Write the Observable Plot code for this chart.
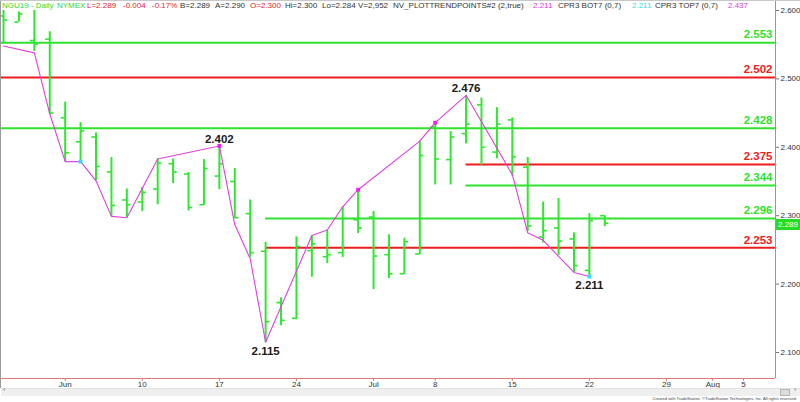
<!DOCTYPE html>
<html><head><meta charset="utf-8">
<script src="https://cdn.jsdelivr.net/npm/d3@7"></script>
<script src="https://cdn.jsdelivr.net/npm/@observablehq/plot@0.6"></script>
<style>
body{margin:0;background:#fff;}
#wrap{position:relative;width:800px;height:402px;overflow:hidden;font-family:"Liberation Sans",Arial,sans-serif;background:#fff;}
#wrap svg{position:absolute;left:0;top:0;}
.hdr{position:absolute;top:1px;font-size:8px;line-height:10px;white-space:nowrap;}
#tag{position:absolute;left:776px;width:24px;height:11px;background:#22dd22;color:#fff;font-size:8px;line-height:11px;text-align:center;}
#scroll{position:absolute;left:1px;top:388px;width:799px;height:7px;background:#efefef;border-top:1px solid #e2e2e2;}
#thumb{position:absolute;left:780px;top:389px;width:8px;height:5px;background:#dcdcdc;border:1px solid #b5b5b5;}
.arr{position:absolute;top:386px;font-size:7px;color:#777;}
#cap{position:absolute;right:3px;top:396px;font-size:4.1px;color:#444;white-space:nowrap;}
#lb{position:absolute;left:0;top:0;width:1px;height:388px;background:#9a9a9a;}
#tb{position:absolute;left:0;top:0;width:800px;height:1px;background:#c8c8c8;}
</style></head><body>
<div id="wrap"></div>
<script>
// trading sessions (calendar of the x axis)
const sessions = ["May 28","May 29","May 30","May 31","Jun 3","Jun 4","Jun 5","Jun 6","Jun 7","Jun 10","Jun 11","Jun 12","Jun 13","Jun 14","Jun 17","Jun 18","Jun 19","Jun 20","Jun 21","Jun 24","Jun 25","Jun 26","Jun 27","Jun 28","Jul 1","Jul 2","Jul 3","Jul 5","Jul 8","Jul 9","Jul 10","Jul 11","Jul 12","Jul 15","Jul 16","Jul 17","Jul 18","Jul 19","Jul 22","Jul 23","Jul 24","Jul 25","Jul 26","Jul 29","Jul 30","Jul 31","Aug 1","Aug 2","Aug 5","Aug 6","Aug 7"];

// daily OHLC bars
const dates  = ["May 28","May 29","May 30","May 31","Jun 3","Jun 4","Jun 5","Jun 6","Jun 7","Jun 10","Jun 11","Jun 12","Jun 13","Jun 14","Jun 17","Jun 18","Jun 19","Jun 20","Jun 21","Jun 24","Jun 25","Jun 26","Jun 27","Jun 28","Jul 1","Jul 2","Jul 3","Jul 5","Jul 8","Jul 9","Jul 10","Jul 11","Jul 12","Jul 15","Jul 16","Jul 17","Jul 18","Jul 19","Jul 22","Jul 23"];
const opens  = [2.592,2.583,2.556,2.558,2.443,2.408,2.415,2.364,2.323,2.320,2.339,2.376,2.361,2.316,2.358,2.350,2.303,2.248,2.173,2.150,2.249,2.240,2.246,2.294,2.298,2.243,2.215,2.244,2.430,2.382,2.420,2.462,2.393,2.440,2.371,2.269,2.282,2.266,2.220,2.300];
const highs  = [2.600,2.598,2.600,2.569,2.466,2.436,2.421,2.385,2.339,2.341,2.383,2.383,2.363,2.382,2.402,2.369,2.323,2.261,2.180,2.269,2.271,2.279,2.313,2.338,2.306,2.272,2.267,2.409,2.436,2.423,2.476,2.472,2.458,2.443,2.385,2.320,2.325,2.275,2.303,2.300];
const lows   = [2.551,2.583,2.540,2.449,2.379,2.379,2.351,2.299,2.297,2.306,2.316,2.347,2.307,2.315,2.338,2.296,2.239,2.115,2.139,2.148,2.210,2.230,2.239,2.274,2.192,2.208,2.214,2.243,2.345,2.345,2.405,2.374,2.383,2.358,2.277,2.260,2.242,2.217,2.211,2.284];
const closes = [2.586,2.595,2.551,2.450,2.392,2.424,2.372,2.315,2.316,2.334,2.377,2.364,2.312,2.369,2.376,2.297,2.246,2.145,2.147,2.255,2.259,2.243,2.296,2.282,2.241,2.215,2.262,2.388,2.383,2.415,2.434,2.400,2.434,2.386,2.285,2.278,2.263,2.227,2.293,2.289];

// NV_PLOTTRENDPOINTS line vertices
const trendDates = ["May 28","May 30","May 31","Jun 3","Jun 4","Jun 5","Jun 6","Jun 7","Jun 11","Jun 17","Jun 18","Jun 19","Jun 20","Jun 25","Jun 26","Jun 27","Jun 28","Jul 5","Jul 8","Jul 10","Jul 15","Jul 16","Jul 17","Jul 19","Jul 22"];
const trendVals  = [2.548,2.538,2.449,2.379,2.379,2.351,2.299,2.297,2.383,2.402,2.287,2.237,2.115,2.271,2.279,2.313,2.338,2.409,2.436,2.476,2.360,2.275,2.264,2.217,2.211];
const topDots = ["Jun 17","Jun 28","Jul 8"];
const botDots = ["Jun 4","Jul 22"];

// horizontal levels
const levels    = [2.553,2.502,2.428,2.375,2.344,2.296,2.253];
const levelKind = ["up","down","up","down","up","up","down"];
const levelFrom = [null,null,null,"Jul 10","Jul 10","Jun 20","Jun 20"];

// swing labels
const swingDates = ["Jun 17","Jun 20","Jul 10","Jul 22"];
const swingVals  = [2.402,2.115,2.476,2.211];
const swingSide  = ["high","low","high","low"];

// axis ticks
const tickDates  = ["Jun 3","Jun 10","Jun 17","Jun 24","Jul 1","Jul 8","Jul 15","Jul 22","Jul 29","Aug 1","Aug 5"];
const tickLabels = ["Jun","10","17","24","Jul","8","15","22","29","Aug","5"];
const yTicks = [2.1,2.2,2.3,2.4,2.5,2.6];
const lastPrice = 2.289;

const header = [
  ["NGU19 - Daily","#2fd62f",2],["NYMEX","#2fd62f",57],["L=2.289","#e8262b",87],["-0.004","#e8262b",123],["-0.17%","#e8262b",152],
  ["B=2.289","#333",180],["A=2.290","#333",215],["O=2.300","#e8262b",250],["Hi=2.300","#333",285],["Lo=2.284","#333",322],
  ["V=2,952","#333",358],["NV_PLOTTRENDPOINTS#2 (2,true)","#333",393],["2.211","#e03ae0",533],["CPR3 BOT7 (0,7)","#333",558],
  ["2.211","#33e0e0",632],["CPR3 TOP7 (0,7)","#333",655],["2.437","#e03ae0",728]
];

const idx = d => sessions.indexOf(d);
const X0 = -0.195, X1 = 50.07;
const bars = dates.map((d,k)=>({i:idx(d),o:opens[k],h:highs[k],l:lows[k],c:closes[k]}));
const trend = trendDates.map((d,k)=>({i:idx(d),v:trendVals[k]}));
const tVal = d => trendVals[trendDates.indexOf(d)];
const lv = levels.map((v,k)=>({v,kind:levelKind[k],start:levelFrom[k]?idx(levelFrom[k]):X0}));
const sw = swingDates.map((d,k)=>({i:idx(d),v:swingVals[k],side:swingSide[k]}));
const tickIdx = tickDates.map(idx);
const f3 = d3.format(".3f");

const barColor = "#2ee82e";
const tk = 0.27; // tick length in sessions

const plot = Plot.plot({
  width:800, height:402,
  marginLeft:0, marginRight:25, marginTop:0, marginBottom:24,
  style:{fontFamily:"Liberation Sans, Arial, sans-serif", fontSize:"8px", background:"transparent", overflow:"visible"},
  x:{domain:[X0,X1]},
  y:{domain:[2.062,2.6146]},
  color:{domain:["up","down"], range:["#2ee22e","#ee1c1c"]},
  marks:[
    Plot.ruleY(lv,{y:"v",x1:"start",x2:X1,stroke:"kind",strokeWidth:2}),
    Plot.ruleX(bars,{x:"i",y1:"l",y2:"h",stroke:barColor,strokeWidth:2,clip:true}),
    Plot.ruleY(bars,{y:"o",x1:d=>d.i-tk,x2:"i",stroke:barColor,strokeWidth:1.6,clip:true}),
    Plot.ruleY(bars,{y:"c",x1:"i",x2:d=>d.i+tk,stroke:barColor,strokeWidth:1.6,clip:true}),
    Plot.line(trend,{x:"i",y:"v",stroke:"#e040e0",strokeWidth:1.1}),
    Plot.dot(topDots,{x:idx,y:tVal,symbol:"square",r:2.2,fill:"#ee22ee",stroke:"none"}),
    Plot.dot(botDots,{x:idx,y:tVal,symbol:"square",r:2.2,fill:"#33ddff",stroke:"none"}),
    Plot.text(lv,{x:X1,y:"v",text:d=>f3(d.v),fill:"kind",textAnchor:"end",dx:-3,dy:-8,fontSize:11.5,fontWeight:"bold"}),
    Plot.text(sw.filter(d=>d.side==="high"),{x:"i",y:"v",text:d=>f3(d.v),fill:"#1a1a1a",fontSize:11.5,fontWeight:"bold",dy:-7}),
    Plot.text(sw.filter(d=>d.side==="low"),{x:"i",y:"v",text:d=>f3(d.v),fill:"#1a1a1a",fontSize:11.5,fontWeight:"bold",dy:9}),
    Plot.ruleY([2.062],{stroke:"#e07878",strokeWidth:1}),
    Plot.ruleX([X1],{stroke:"#e07878",strokeWidth:1}),
    Plot.axisY({anchor:"right",ticks:yTicks,tickFormat:f3,tickSize:3,tickPadding:2,fontSize:8,stroke:"#777",fill:"#333"}),
    Plot.axisX({anchor:"bottom",ticks:tickIdx,tickFormat:t=>tickLabels[tickIdx.indexOf(t)],tickSize:3,tickPadding:0,fontSize:8,stroke:"#e07878",fill:"#333"})
  ]
});

const wrap = document.getElementById("wrap");
wrap.appendChild(plot);
for (const [t,c,l] of header) {
  const s = document.createElement("span");
  s.className="hdr"; s.textContent=t; s.style.color=c; s.style.left=l+"px";
  wrap.appendChild(s);
}
const tag = document.createElement("div");
tag.id="tag"; tag.textContent=f3(lastPrice);
tag.style.top=(plot.scale("y").apply(lastPrice)-3.5)+"px";
wrap.appendChild(tag);
wrap.insertAdjacentHTML("beforeend",
 '<div id="scroll"></div><div id="thumb"></div><span class="arr" style="left:3px">‹</span><span class="arr" style="left:794px">›</span>'+
 '<div id="cap">Created with TradeStation. ©TradeStation Technologies, Inc. All rights reserved.</div><div id="lb"></div><div id="tb"></div>');
</script>
</body></html>
